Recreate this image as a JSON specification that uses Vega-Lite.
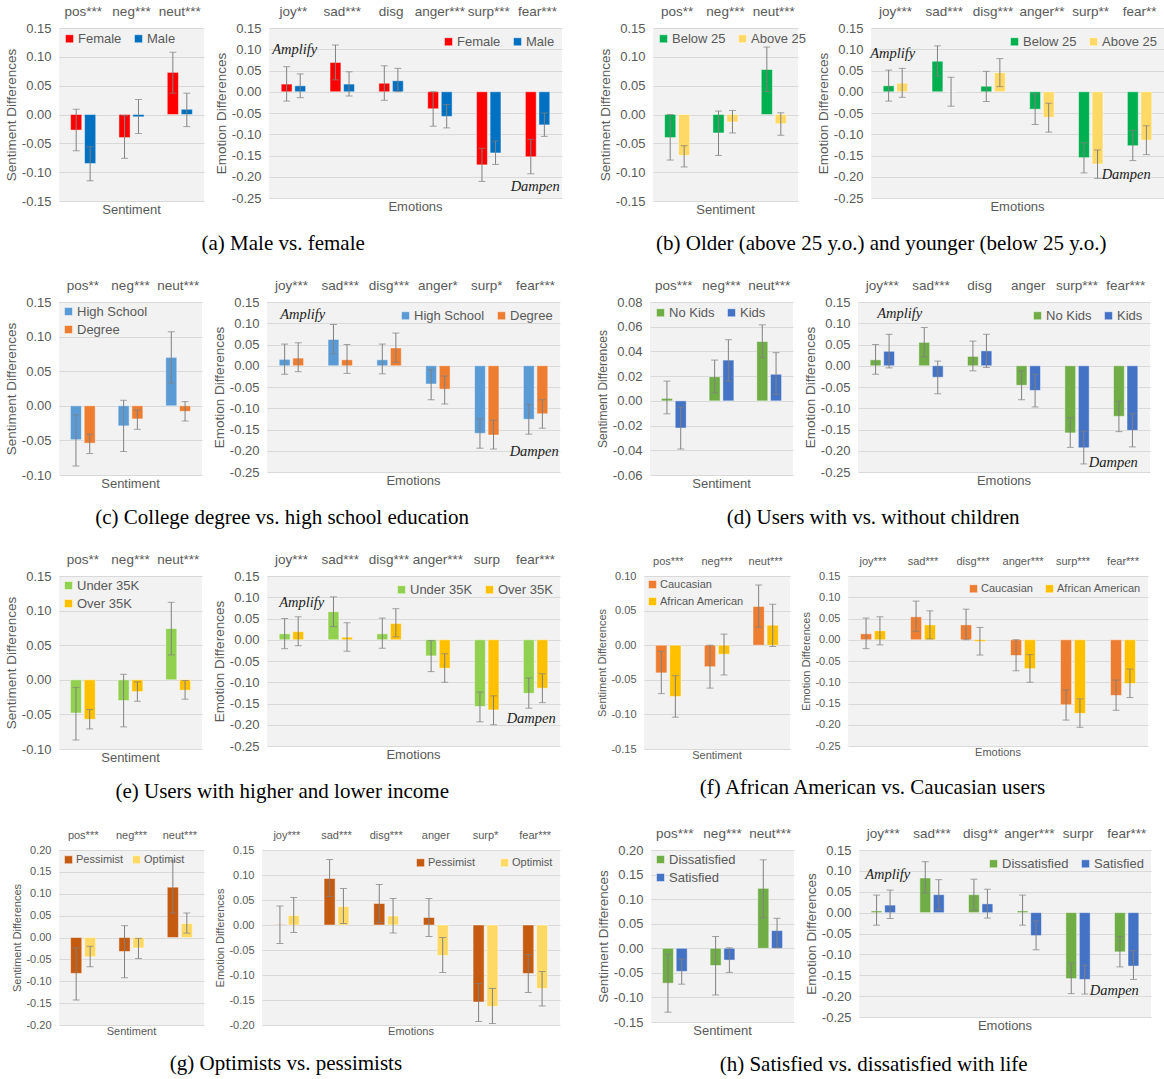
{
"$schema": "https://vega.github.io/schema/vega-lite/v6.json",
"padding": {"left": 4, "top": 4, "right": 2, "bottom": 2},
"background": "white",
"datasets": {"d": [
{"p":"a","k":"s","c":"pos***","g":"Female","v":-0.027,"lo":-0.063,"hi":0.009},
{"p":"a","k":"s","c":"pos***","g":"Male","v":-0.085,"lo":-0.115,"hi":-0.056},
{"p":"a","k":"s","c":"neg***","g":"Female","v":-0.040,"lo":-0.076,"hi":-0.002},
{"p":"a","k":"s","c":"neg***","g":"Male","v":-0.004,"lo":-0.033,"hi":0.026},
{"p":"a","k":"s","c":"neut***","g":"Female","v":0.073,"lo":0.037,"hi":0.108},
{"p":"a","k":"s","c":"neut***","g":"Male","v":0.009,"lo":-0.021,"hi":0.037},
{"p":"a","k":"e","c":"joy**","g":"Female","v":0.018,"lo":-0.022,"hi":0.059},
{"p":"a","k":"e","c":"joy**","g":"Male","v":0.014,"lo":-0.014,"hi":0.042},
{"p":"a","k":"e","c":"sad***","g":"Female","v":0.069,"lo":0.028,"hi":0.110},
{"p":"a","k":"e","c":"sad***","g":"Male","v":0.018,"lo":-0.010,"hi":0.047},
{"p":"a","k":"e","c":"disg","g":"Female","v":0.020,"lo":-0.020,"hi":0.061},
{"p":"a","k":"e","c":"disg","g":"Male","v":0.026,"lo":0.000,"hi":0.055},
{"p":"a","k":"e","c":"anger***","g":"Female","v":-0.040,"lo":-0.081,"hi":0.000},
{"p":"a","k":"e","c":"anger***","g":"Male","v":-0.058,"lo":-0.085,"hi":-0.030},
{"p":"a","k":"e","c":"surp***","g":"Female","v":-0.172,"lo":-0.211,"hi":-0.133},
{"p":"a","k":"e","c":"surp***","g":"Male","v":-0.144,"lo":-0.171,"hi":-0.116},
{"p":"a","k":"e","c":"fear***","g":"Female","v":-0.153,"lo":-0.193,"hi":-0.112},
{"p":"a","k":"e","c":"fear***","g":"Male","v":-0.078,"lo":-0.105,"hi":-0.050},
{"p":"b","k":"s","c":"pos**","g":"Below 25","v":-0.040,"lo":-0.079,"hi":0.000},
{"p":"b","k":"s","c":"pos**","g":"Above 25","v":-0.071,"lo":-0.091,"hi":-0.054},
{"p":"b","k":"s","c":"neg***","g":"Below 25","v":-0.032,"lo":-0.071,"hi":0.006},
{"p":"b","k":"s","c":"neg***","g":"Above 25","v":-0.013,"lo":-0.032,"hi":0.007},
{"p":"b","k":"s","c":"neut***","g":"Below 25","v":0.078,"lo":0.040,"hi":0.117},
{"p":"b","k":"s","c":"neut***","g":"Above 25","v":-0.016,"lo":-0.036,"hi":0.003},
{"p":"b","k":"e","c":"joy***","g":"Below 25","v":0.014,"lo":-0.022,"hi":0.051},
{"p":"b","k":"e","c":"joy***","g":"Above 25","v":0.020,"lo":-0.013,"hi":0.055},
{"p":"b","k":"e","c":"sad***","g":"Below 25","v":0.072,"lo":0.037,"hi":0.108},
{"p":"b","k":"e","c":"sad***","g":"Above 25","v":0.000,"lo":-0.034,"hi":0.034},
{"p":"b","k":"e","c":"disg***","g":"Below 25","v":0.013,"lo":-0.023,"hi":0.048},
{"p":"b","k":"e","c":"disg***","g":"Above 25","v":0.045,"lo":0.012,"hi":0.078},
{"p":"b","k":"e","c":"anger**","g":"Below 25","v":-0.041,"lo":-0.077,"hi":-0.005},
{"p":"b","k":"e","c":"anger**","g":"Above 25","v":-0.060,"lo":-0.095,"hi":-0.027},
{"p":"b","k":"e","c":"surp**","g":"Below 25","v":-0.155,"lo":-0.191,"hi":-0.120},
{"p":"b","k":"e","c":"surp**","g":"Above 25","v":-0.170,"lo":-0.204,"hi":-0.137},
{"p":"b","k":"e","c":"fear**","g":"Below 25","v":-0.127,"lo":-0.162,"hi":-0.091},
{"p":"b","k":"e","c":"fear**","g":"Above 25","v":-0.114,"lo":-0.148,"hi":-0.080},
{"p":"c","k":"s","c":"pos**","g":"High School","v":-0.049,"lo":-0.087,"hi":-0.013},
{"p":"c","k":"s","c":"pos**","g":"Degree","v":-0.054,"lo":-0.069,"hi":-0.041},
{"p":"c","k":"s","c":"neg***","g":"High School","v":-0.029,"lo":-0.066,"hi":0.008},
{"p":"c","k":"s","c":"neg***","g":"Degree","v":-0.019,"lo":-0.034,"hi":-0.006},
{"p":"c","k":"s","c":"neut***","g":"High School","v":0.070,"lo":0.033,"hi":0.107},
{"p":"c","k":"s","c":"neut***","g":"Degree","v":-0.008,"lo":-0.022,"hi":0.006},
{"p":"c","k":"e","c":"joy***","g":"High School","v":0.015,"lo":-0.020,"hi":0.051},
{"p":"c","k":"e","c":"joy***","g":"Degree","v":0.018,"lo":-0.014,"hi":0.054},
{"p":"c","k":"e","c":"sad***","g":"High School","v":0.062,"lo":0.028,"hi":0.097},
{"p":"c","k":"e","c":"sad***","g":"Degree","v":0.014,"lo":-0.018,"hi":0.050},
{"p":"c","k":"e","c":"disg***","g":"High School","v":0.014,"lo":-0.019,"hi":0.051},
{"p":"c","k":"e","c":"disg***","g":"Degree","v":0.042,"lo":0.008,"hi":0.077},
{"p":"c","k":"e","c":"anger*","g":"High School","v":-0.043,"lo":-0.080,"hi":-0.009},
{"p":"c","k":"e","c":"anger*","g":"Degree","v":-0.055,"lo":-0.090,"hi":-0.024},
{"p":"c","k":"e","c":"surp*","g":"High School","v":-0.159,"lo":-0.194,"hi":-0.125},
{"p":"c","k":"e","c":"surp*","g":"Degree","v":-0.163,"lo":-0.196,"hi":-0.128},
{"p":"c","k":"e","c":"fear***","g":"High School","v":-0.126,"lo":-0.161,"hi":-0.091},
{"p":"c","k":"e","c":"fear***","g":"Degree","v":-0.113,"lo":-0.147,"hi":-0.080},
{"p":"d","k":"s","c":"pos***","g":"No Kids","v":0.002,"lo":-0.0105,"hi":0.016},
{"p":"d","k":"s","c":"pos***","g":"Kids","v":-0.022,"lo":-0.039,"hi":-0.005},
{"p":"d","k":"s","c":"neg***","g":"No Kids","v":0.0195,"lo":0.0065,"hi":0.033},
{"p":"d","k":"s","c":"neg***","g":"Kids","v":0.033,"lo":0.016,"hi":0.0495},
{"p":"d","k":"s","c":"neut***","g":"No Kids","v":0.048,"lo":0.035,"hi":0.0615},
{"p":"d","k":"s","c":"neut***","g":"Kids","v":0.0215,"lo":0.0053,"hi":0.039},
{"p":"d","k":"e","c":"joy***","g":"No Kids","v":0.014,"lo":-0.020,"hi":0.050},
{"p":"d","k":"e","c":"joy***","g":"Kids","v":0.034,"lo":-0.005,"hi":0.074},
{"p":"d","k":"e","c":"sad***","g":"No Kids","v":0.055,"lo":0.021,"hi":0.090},
{"p":"d","k":"e","c":"sad***","g":"Kids","v":-0.027,"lo":-0.066,"hi":0.011},
{"p":"d","k":"e","c":"disg","g":"No Kids","v":0.022,"lo":-0.012,"hi":0.058},
{"p":"d","k":"e","c":"disg","g":"Kids","v":0.035,"lo":-0.004,"hi":0.074},
{"p":"d","k":"e","c":"anger","g":"No Kids","v":-0.046,"lo":-0.080,"hi":-0.012},
{"p":"d","k":"e","c":"anger","g":"Kids","v":-0.058,"lo":-0.097,"hi":-0.020},
{"p":"d","k":"e","c":"surp***","g":"No Kids","v":-0.158,"lo":-0.192,"hi":-0.122},
{"p":"d","k":"e","c":"surp***","g":"Kids","v":-0.193,"lo":-0.231,"hi":-0.154},
{"p":"d","k":"e","c":"fear***","g":"No Kids","v":-0.119,"lo":-0.155,"hi":-0.084},
{"p":"d","k":"e","c":"fear***","g":"Kids","v":-0.152,"lo":-0.191,"hi":-0.113},
{"p":"e","k":"s","c":"pos**","g":"Under 35K","v":-0.048,"lo":-0.087,"hi":-0.011},
{"p":"e","k":"s","c":"pos**","g":"Over 35K","v":-0.057,"lo":-0.071,"hi":-0.043},
{"p":"e","k":"s","c":"neg***","g":"Under 35K","v":-0.030,"lo":-0.068,"hi":0.008},
{"p":"e","k":"s","c":"neg***","g":"Over 35K","v":-0.017,"lo":-0.031,"hi":-0.003},
{"p":"e","k":"s","c":"neut***","g":"Under 35K","v":0.074,"lo":0.036,"hi":0.112},
{"p":"e","k":"s","c":"neut***","g":"Over 35K","v":-0.015,"lo":-0.028,"hi":-0.001},
{"p":"e","k":"e","c":"joy***","g":"Under 35K","v":0.014,"lo":-0.021,"hi":0.050},
{"p":"e","k":"e","c":"joy***","g":"Over 35K","v":0.019,"lo":-0.014,"hi":0.054},
{"p":"e","k":"e","c":"sad***","g":"Under 35K","v":0.066,"lo":0.031,"hi":0.101},
{"p":"e","k":"e","c":"sad***","g":"Over 35K","v":0.006,"lo":-0.027,"hi":0.040},
{"p":"e","k":"e","c":"disg***","g":"Under 35K","v":0.014,"lo":-0.020,"hi":0.051},
{"p":"e","k":"e","c":"disg***","g":"Over 35K","v":0.038,"lo":0.007,"hi":0.073},
{"p":"e","k":"e","c":"anger***","g":"Under 35K","v":-0.038,"lo":-0.075,"hi":-0.002},
{"p":"e","k":"e","c":"anger***","g":"Over 35K","v":-0.067,"lo":-0.100,"hi":-0.033},
{"p":"e","k":"e","c":"surp","g":"Under 35K","v":-0.157,"lo":-0.193,"hi":-0.123},
{"p":"e","k":"e","c":"surp","g":"Over 35K","v":-0.165,"lo":-0.200,"hi":-0.132},
{"p":"e","k":"e","c":"fear***","g":"Under 35K","v":-0.126,"lo":-0.161,"hi":-0.090},
{"p":"e","k":"e","c":"fear***","g":"Over 35K","v":-0.114,"lo":-0.148,"hi":-0.080},
{"p":"f","k":"s","c":"pos***","g":"Caucasian","v":-0.040,"lo":-0.070,"hi":-0.009},
{"p":"f","k":"s","c":"pos***","g":"African American","v":-0.074,"lo":-0.104,"hi":-0.044},
{"p":"f","k":"s","c":"neg***","g":"Caucasian","v":-0.031,"lo":-0.062,"hi":0.000},
{"p":"f","k":"s","c":"neg***","g":"African American","v":-0.013,"lo":-0.043,"hi":0.016},
{"p":"f","k":"s","c":"neut***","g":"Caucasian","v":0.056,"lo":0.026,"hi":0.087},
{"p":"f","k":"s","c":"neut***","g":"African American","v":0.029,"lo":-0.002,"hi":0.059},
{"p":"f","k":"e","c":"joy***","g":"Caucasian","v":0.014,"lo":-0.021,"hi":0.051},
{"p":"f","k":"e","c":"joy***","g":"African American","v":0.021,"lo":-0.012,"hi":0.054},
{"p":"f","k":"e","c":"sad***","g":"Caucasian","v":0.054,"lo":0.020,"hi":0.091},
{"p":"f","k":"e","c":"sad***","g":"African American","v":0.035,"lo":0.002,"hi":0.068},
{"p":"f","k":"e","c":"disg***","g":"Caucasian","v":0.035,"lo":0.000,"hi":0.072},
{"p":"f","k":"e","c":"disg***","g":"African American","v":-0.004,"lo":-0.036,"hi":0.029},
{"p":"f","k":"e","c":"anger***","g":"Caucasian","v":-0.037,"lo":-0.073,"hi":0.000},
{"p":"f","k":"e","c":"anger***","g":"African American","v":-0.068,"lo":-0.100,"hi":-0.035},
{"p":"f","k":"e","c":"surp***","g":"Caucasian","v":-0.153,"lo":-0.189,"hi":-0.118},
{"p":"f","k":"e","c":"surp***","g":"African American","v":-0.173,"lo":-0.206,"hi":-0.139},
{"p":"f","k":"e","c":"fear***","g":"Caucasian","v":-0.131,"lo":-0.166,"hi":-0.095},
{"p":"f","k":"e","c":"fear***","g":"African American","v":-0.103,"lo":-0.136,"hi":-0.069},
{"p":"g","k":"s","c":"pos***","g":"Pessimist","v":-0.082,"lo":-0.143,"hi":-0.024},
{"p":"g","k":"s","c":"pos***","g":"Optimist","v":-0.044,"lo":-0.067,"hi":-0.020},
{"p":"g","k":"s","c":"neg***","g":"Pessimist","v":-0.032,"lo":-0.092,"hi":0.027},
{"p":"g","k":"s","c":"neg***","g":"Optimist","v":-0.024,"lo":-0.048,"hi":-0.002},
{"p":"g","k":"s","c":"neut***","g":"Pessimist","v":0.115,"lo":0.056,"hi":0.175},
{"p":"g","k":"s","c":"neut***","g":"Optimist","v":0.032,"lo":0.010,"hi":0.056},
{"p":"g","k":"e","c":"joy***","g":"Pessimist","v":0.001,"lo":-0.037,"hi":0.038},
{"p":"g","k":"e","c":"joy***","g":"Optimist","v":0.019,"lo":-0.015,"hi":0.055},
{"p":"g","k":"e","c":"sad***","g":"Pessimist","v":0.093,"lo":0.057,"hi":0.131},
{"p":"g","k":"e","c":"sad***","g":"Optimist","v":0.037,"lo":0.003,"hi":0.073},
{"p":"g","k":"e","c":"disg***","g":"Pessimist","v":0.043,"lo":0.005,"hi":0.081},
{"p":"g","k":"e","c":"disg***","g":"Optimist","v":0.018,"lo":-0.016,"hi":0.053},
{"p":"g","k":"e","c":"anger","g":"Pessimist","v":0.015,"lo":-0.023,"hi":0.053},
{"p":"g","k":"e","c":"anger","g":"Optimist","v":-0.061,"lo":-0.095,"hi":-0.025},
{"p":"g","k":"e","c":"surp*","g":"Pessimist","v":-0.154,"lo":-0.193,"hi":-0.117},
{"p":"g","k":"e","c":"surp*","g":"Optimist","v":-0.163,"lo":-0.197,"hi":-0.127},
{"p":"g","k":"e","c":"fear***","g":"Pessimist","v":-0.097,"lo":-0.135,"hi":-0.059},
{"p":"g","k":"e","c":"fear***","g":"Optimist","v":-0.127,"lo":-0.162,"hi":-0.093},
{"p":"h","k":"s","c":"pos***","g":"Dissatisfied","v":-0.071,"lo":-0.130,"hi":-0.012},
{"p":"h","k":"s","c":"pos***","g":"Satisfied","v":-0.047,"lo":-0.073,"hi":-0.022},
{"p":"h","k":"s","c":"neg***","g":"Dissatisfied","v":-0.035,"lo":-0.095,"hi":0.024},
{"p":"h","k":"s","c":"neg***","g":"Satisfied","v":-0.024,"lo":-0.049,"hi":0.001},
{"p":"h","k":"s","c":"neut***","g":"Dissatisfied","v":0.122,"lo":0.062,"hi":0.180},
{"p":"h","k":"s","c":"neut***","g":"Satisfied","v":0.036,"lo":0.001,"hi":0.061},
{"p":"h","k":"e","c":"joy***","g":"Dissatisfied","v":0.004,"lo":-0.030,"hi":0.042},
{"p":"h","k":"e","c":"joy***","g":"Satisfied","v":0.018,"lo":-0.014,"hi":0.054},
{"p":"h","k":"e","c":"sad***","g":"Dissatisfied","v":0.083,"lo":0.047,"hi":0.122},
{"p":"h","k":"e","c":"sad***","g":"Satisfied","v":0.043,"lo":0.008,"hi":0.079},
{"p":"h","k":"e","c":"disg**","g":"Dissatisfied","v":0.043,"lo":0.006,"hi":0.080},
{"p":"h","k":"e","c":"disg**","g":"Satisfied","v":0.021,"lo":-0.013,"hi":0.056},
{"p":"h","k":"e","c":"anger***","g":"Dissatisfied","v":0.004,"lo":-0.030,"hi":0.042},
{"p":"h","k":"e","c":"anger***","g":"Satisfied","v":-0.055,"lo":-0.089,"hi":-0.020},
{"p":"h","k":"e","c":"surpr","g":"Dissatisfied","v":-0.158,"lo":-0.194,"hi":-0.121},
{"p":"h","k":"e","c":"surpr","g":"Satisfied","v":-0.160,"lo":-0.195,"hi":-0.126},
{"p":"h","k":"e","c":"fear***","g":"Dissatisfied","v":-0.094,"lo":-0.130,"hi":-0.057},
{"p":"h","k":"e","c":"fear***","g":"Satisfied","v":-0.128,"lo":-0.160,"hi":-0.091}
]},
"data": {"name": "d"},
"config": {
  "font": "Liberation Sans",
  "view": {"fill": "#F2F2F2", "stroke": null},
  "axis": {"labelFont": "Liberation Sans", "titleFont": "Liberation Sans", "labelColor": "#595959", "titleColor": "#595959", "titleFontWeight": "normal", "domain": false, "ticks": false, "labelFontSize": 13, "titleFontSize": 13.5},
  "axisY": {"gridColor": "#D9D9D9", "gridWidth": 1, "labelPadding": 8, "titlePadding": 3},
  "axisX": {"grid": false, "labelAngle": 0, "labelPadding": 10, "labelFontSize": 13.5},
  "legend": {"symbolType": "square", "symbolSize": 64, "labelFont": "Liberation Sans", "labelFontSize": 13, "labelColor": "#595959", "padding": 0, "columnPadding": 10, "rowPadding": 4, "labelOffset": 2, "symbolStrokeWidth": 0, "offset": 4},
  "title": {"font": "Liberation Sans", "fontSize": 13, "fontWeight": "normal", "color": "#595959", "offset": -4},
  "bar": {"stroke": "#ffffff", "strokeOpacity": 0.45, "strokeWidth": 1},
  "rule": {"color": "#808080", "strokeWidth": 1},
  "tick": {"color": "#808080", "thickness": 1}
},
"spacing": 24,
"resolve": {"scale": {"color": "independent", "xOffset": "independent"}},
"vconcat": [
{"hconcat": [
 {"title": {"text": "(a) Male vs. female", "orient": "bottom", "anchor": "middle", "font": "Liberation Serif", "fontSize": 21, "color": "#000000", "offset": 16},
  "spacing": 10, "resolve": {"scale": {"color": "independent", "xOffset": "independent"}},
  "hconcat": [
  {"width": 145, "height": 173, "title": {"text": "Sentiment", "orient": "bottom"},
   "transform": [{"filter": "datum.p=='a'&&datum.k=='s'"}],
   "encoding": {
     "x": {"field": "c", "type": "nominal", "sort": null, "scale": {"paddingInner": 0.48, "paddingOuter": 0.24}, "axis": {"orient": "top", "title": null}},
     "y": {"field": "v", "type": "quantitative", "scale": {"domain": [-0.15, 0.15], "nice": false}, "axis": {"title": "Sentiment Differences", "values": [-0.15,-0.1,-0.05,0,0.05,0.1,0.15], "labelExpr": "replace(format(datum.value,'.2f'),'\u2212','-')"}}},
   "layer": [
    {"mark": "bar", "encoding": {"xOffset": {"field": "g", "type": "nominal", "sort": null, "scale": {"paddingInner": 0.2}},
      "color": {"field": "g", "type": "nominal", "sort": null, "scale": {"range": ["#FF0000","#0070C0"]}, "legend": {"title": null, "orient": "top-left", "direction": "horizontal"}}}},
    {"mark": "rule", "encoding": {"xOffset": {"field": "g", "type": "nominal", "sort": null}, "y": {"field": "lo", "type": "quantitative"}, "y2": {"field": "hi"}}},
    {"transform": [{"fold": ["lo","hi"], "as": ["ek","ev"]}], "mark": {"type": "tick", "size": 7}, "encoding": {"xOffset": {"field": "g", "type": "nominal", "sort": null}, "y": {"field": "ev", "type": "quantitative"}}}
   ]},
  {"width": 293, "height": 170, "title": {"text": "Emotions", "orient": "bottom"},
   "transform": [{"filter": "datum.p=='a'&&datum.k=='e'"}],
   "encoding": {
     "x": {"field": "c", "type": "nominal", "sort": null, "scale": {"paddingInner": 0.5, "paddingOuter": 0.25}, "axis": {"orient": "top", "title": null}},
     "y": {"field": "v", "type": "quantitative", "scale": {"domain": [-0.25, 0.15], "nice": false}, "axis": {"title": "Emotion Differences", "values": [-0.25,-0.2,-0.15,-0.1,-0.05,0,0.05,0.1,0.15], "labelExpr": "replace(format(datum.value,'.2f'),'\u2212','-')"}}},
   "layer": [
    {"mark": "bar", "encoding": {"xOffset": {"field": "g", "type": "nominal", "sort": null, "scale": {"paddingInner": 0.2}},
      "color": {"field": "g", "type": "nominal", "sort": null, "scale": {"range": ["#FF0000","#0070C0"]}, "legend": {"title": null, "orient": "top-right", "direction": "horizontal", "offset": 7}}}},
    {"mark": "rule", "encoding": {"xOffset": {"field": "g", "type": "nominal", "sort": null}, "y": {"field": "lo", "type": "quantitative"}, "y2": {"field": "hi"}}},
    {"transform": [{"fold": ["lo","hi"], "as": ["ek","ev"]}], "mark": {"type": "tick", "size": 7}, "encoding": {"xOffset": {"field": "g", "type": "nominal", "sort": null}, "y": {"field": "ev", "type": "quantitative"}}},
    {"data": {"values": [{"c": "joy**", "t": "Amplify", "y": 0.098}]}, "mark": {"type": "text", "align": "left", "dx": -9, "font": "Liberation Serif", "fontStyle": "italic", "fontSize": 14.5, "color": "#222222"}, "encoding": {"x": {"field": "c", "type": "nominal", "sort": null, "bandPosition": 0, "axis": {"orient": "top", "title": null}}, "y": {"field": "y", "type": "quantitative"}, "text": {"field": "t"}}},
    {"data": {"values": [{"c": "fear***", "t": "Dampen", "y": -0.224}]}, "mark": {"type": "text", "align": "right", "dx": 10, "font": "Liberation Serif", "fontStyle": "italic", "fontSize": 14.5, "color": "#222222"}, "encoding": {"x": {"field": "c", "type": "nominal", "sort": null, "bandPosition": 1, "axis": {"orient": "top", "title": null}}, "y": {"field": "y", "type": "quantitative"}, "text": {"field": "t"}}}
   ]}
 ]},
 {"title": {"text": "(b) Older (above 25 y.o.) and younger (below 25 y.o.)", "orient": "bottom", "anchor": "middle", "font": "Liberation Serif", "fontSize": 21, "color": "#000000", "offset": 16},
  "spacing": 10, "resolve": {"scale": {"color": "independent", "xOffset": "independent"}},
  "hconcat": [
  {"width": 145, "height": 173, "title": {"text": "Sentiment", "orient": "bottom"},
   "transform": [{"filter": "datum.p=='b'&&datum.k=='s'"}],
   "encoding": {
     "x": {"field": "c", "type": "nominal", "sort": null, "scale": {"paddingInner": 0.48, "paddingOuter": 0.24}, "axis": {"orient": "top", "title": null}},
     "y": {"field": "v", "type": "quantitative", "scale": {"domain": [-0.15, 0.15], "nice": false}, "axis": {"title": "Sentiment Differences", "values": [-0.15,-0.1,-0.05,0,0.05,0.1,0.15], "labelExpr": "replace(format(datum.value,'.2f'),'\u2212','-')"}}},
   "layer": [
    {"mark": "bar", "encoding": {"xOffset": {"field": "g", "type": "nominal", "sort": null, "scale": {"paddingInner": 0.2}},
      "color": {"field": "g", "type": "nominal", "sort": null, "scale": {"range": ["#00B050","#FFD966"]}, "legend": {"title": null, "orient": "top-left", "direction": "horizontal"}}}},
    {"mark": "rule", "encoding": {"xOffset": {"field": "g", "type": "nominal", "sort": null}, "y": {"field": "lo", "type": "quantitative"}, "y2": {"field": "hi"}}},
    {"transform": [{"fold": ["lo","hi"], "as": ["ek","ev"]}], "mark": {"type": "tick", "size": 7}, "encoding": {"xOffset": {"field": "g", "type": "nominal", "sort": null}, "y": {"field": "ev", "type": "quantitative"}}}
   ]},
  {"width": 293, "height": 170, "title": {"text": "Emotions", "orient": "bottom"},
   "transform": [{"filter": "datum.p=='b'&&datum.k=='e'"}],
   "encoding": {
     "x": {"field": "c", "type": "nominal", "sort": null, "scale": {"paddingInner": 0.5, "paddingOuter": 0.25}, "axis": {"orient": "top", "title": null}},
     "y": {"field": "v", "type": "quantitative", "scale": {"domain": [-0.25, 0.15], "nice": false}, "axis": {"title": "Emotion Differences", "values": [-0.25,-0.2,-0.15,-0.1,-0.05,0,0.05,0.1,0.15], "labelExpr": "replace(format(datum.value,'.2f'),'\u2212','-')"}}},
   "layer": [
    {"mark": "bar", "encoding": {"xOffset": {"field": "g", "type": "nominal", "sort": null, "scale": {"paddingInner": 0.2}},
      "color": {"field": "g", "type": "nominal", "sort": null, "scale": {"range": ["#00B050","#FFD966"]}, "legend": {"title": null, "orient": "top-right", "direction": "horizontal", "offset": 7}}}},
    {"mark": "rule", "encoding": {"xOffset": {"field": "g", "type": "nominal", "sort": null}, "y": {"field": "lo", "type": "quantitative"}, "y2": {"field": "hi"}}},
    {"transform": [{"fold": ["lo","hi"], "as": ["ek","ev"]}], "mark": {"type": "tick", "size": 7}, "encoding": {"xOffset": {"field": "g", "type": "nominal", "sort": null}, "y": {"field": "ev", "type": "quantitative"}}},
    {"data": {"values": [{"c": "joy***", "t": "Amplify", "y": 0.088}]}, "mark": {"type": "text", "align": "left", "dx": -13, "font": "Liberation Serif", "fontStyle": "italic", "fontSize": 14.5, "color": "#222222"}, "encoding": {"x": {"field": "c", "type": "nominal", "sort": null, "bandPosition": 0, "axis": {"orient": "top", "title": null}}, "y": {"field": "y", "type": "quantitative"}, "text": {"field": "t"}}},
    {"data": {"values": [{"c": "fear**", "t": "Dampen", "y": -0.195}]}, "mark": {"type": "text", "align": "right", "dx": -1, "font": "Liberation Serif", "fontStyle": "italic", "fontSize": 14.5, "color": "#222222"}, "encoding": {"x": {"field": "c", "type": "nominal", "sort": null, "bandPosition": 1, "axis": {"orient": "top", "title": null}}, "y": {"field": "y", "type": "quantitative"}, "text": {"field": "t"}}}
   ]}
 ]}
], "spacing": 36, "resolve": {"scale": {"color": "independent", "xOffset": "independent"}}},
{"hconcat": [
 {"title": {"text": "(c) College degree vs. high school education", "orient": "bottom", "anchor": "middle", "font": "Liberation Serif", "fontSize": 21, "color": "#000000", "offset": 16},
  "spacing": 10, "resolve": {"scale": {"color": "independent", "xOffset": "independent"}},
  "hconcat": [
  {"width": 143, "height": 173, "title": {"text": "Sentiment", "orient": "bottom"},
   "transform": [{"filter": "datum.p=='c'&&datum.k=='s'"}],
   "encoding": {
     "x": {"field": "c", "type": "nominal", "sort": null, "scale": {"paddingInner": 0.48, "paddingOuter": 0.24}, "axis": {"orient": "top", "title": null}},
     "y": {"field": "v", "type": "quantitative", "scale": {"domain": [-0.1, 0.15], "nice": false}, "axis": {"title": "Sentiment Differences", "values": [-0.1,-0.05,0,0.05,0.1,0.15], "labelExpr": "replace(format(datum.value,'.2f'),'\u2212','-')"}}},
   "layer": [
    {"mark": "bar", "encoding": {"xOffset": {"field": "g", "type": "nominal", "sort": null, "scale": {"paddingInner": 0.2}},
      "color": {"field": "g", "type": "nominal", "sort": null, "scale": {"range": ["#5B9BD5","#ED7D31"]}, "legend": {"title": null, "orient": "top-left", "direction": "vertical", "offset": 3}}}},
    {"mark": "rule", "encoding": {"xOffset": {"field": "g", "type": "nominal", "sort": null}, "y": {"field": "lo", "type": "quantitative"}, "y2": {"field": "hi"}}},
    {"transform": [{"fold": ["lo","hi"], "as": ["ek","ev"]}], "mark": {"type": "tick", "size": 7}, "encoding": {"xOffset": {"field": "g", "type": "nominal", "sort": null}, "y": {"field": "ev", "type": "quantitative"}}}
   ]},
  {"width": 293, "height": 170, "title": {"text": "Emotions", "orient": "bottom"},
   "transform": [{"filter": "datum.p=='c'&&datum.k=='e'"}],
   "encoding": {
     "x": {"field": "c", "type": "nominal", "sort": null, "scale": {"paddingInner": 0.5, "paddingOuter": 0.25}, "axis": {"orient": "top", "title": null}},
     "y": {"field": "v", "type": "quantitative", "scale": {"domain": [-0.25, 0.15], "nice": false}, "axis": {"title": "Emotion Differences", "values": [-0.25,-0.2,-0.15,-0.1,-0.05,0,0.05,0.1,0.15], "labelExpr": "replace(format(datum.value,'.2f'),'\u2212','-')"}}},
   "layer": [
    {"mark": "bar", "encoding": {"xOffset": {"field": "g", "type": "nominal", "sort": null, "scale": {"paddingInner": 0.2}},
      "color": {"field": "g", "type": "nominal", "sort": null, "scale": {"range": ["#5B9BD5","#ED7D31"]}, "legend": {"title": null, "orient": "top-right", "direction": "horizontal", "offset": 7}}}},
    {"mark": "rule", "encoding": {"xOffset": {"field": "g", "type": "nominal", "sort": null}, "y": {"field": "lo", "type": "quantitative"}, "y2": {"field": "hi"}}},
    {"transform": [{"fold": ["lo","hi"], "as": ["ek","ev"]}], "mark": {"type": "tick", "size": 7}, "encoding": {"xOffset": {"field": "g", "type": "nominal", "sort": null}, "y": {"field": "ev", "type": "quantitative"}}},
    {"data": {"values": [{"c": "joy***", "t": "Amplify", "y": 0.12}]}, "mark": {"type": "text", "align": "left", "dx": 1, "font": "Liberation Serif", "fontStyle": "italic", "fontSize": 14.5, "color": "#222222"}, "encoding": {"x": {"field": "c", "type": "nominal", "sort": null, "bandPosition": 0, "axis": {"orient": "top", "title": null}}, "y": {"field": "y", "type": "quantitative"}, "text": {"field": "t"}}},
    {"data": {"values": [{"c": "fear***", "t": "Dampen", "y": -0.204}]}, "mark": {"type": "text", "align": "right", "dx": 11, "font": "Liberation Serif", "fontStyle": "italic", "fontSize": 14.5, "color": "#222222"}, "encoding": {"x": {"field": "c", "type": "nominal", "sort": null, "bandPosition": 1, "axis": {"orient": "top", "title": null}}, "y": {"field": "y", "type": "quantitative"}, "text": {"field": "t"}}}
   ]}
 ]},
 {"title": {"text": "(d) Users with vs. without children", "orient": "bottom", "anchor": "middle", "font": "Liberation Serif", "fontSize": 21, "color": "#000000", "offset": 16},
  "spacing": 10, "resolve": {"scale": {"color": "independent", "xOffset": "independent"}},
  "hconcat": [
  {"width": 143, "height": 173, "title": {"text": "Sentiment", "orient": "bottom"},
   "transform": [{"filter": "datum.p=='d'&&datum.k=='s'"}],
   "encoding": {
     "x": {"field": "c", "type": "nominal", "sort": null, "scale": {"paddingInner": 0.48, "paddingOuter": 0.24}, "axis": {"orient": "top", "title": null}},
     "y": {"field": "v", "type": "quantitative", "scale": {"domain": [-0.06, 0.08], "nice": false}, "axis": {"title": "Sentiment Differences", "titleFontSize": 12, "values": [-0.06,-0.04,-0.02,0,0.02,0.04,0.06,0.08], "labelExpr": "replace(format(datum.value,'.2f'),'\u2212','-')"}}},
   "layer": [
    {"mark": "bar", "encoding": {"xOffset": {"field": "g", "type": "nominal", "sort": null, "scale": {"paddingInner": 0.2}},
      "color": {"field": "g", "type": "nominal", "sort": null, "scale": {"range": ["#70AD47","#4472C4"]}, "legend": {"title": null, "orient": "top-left", "direction": "horizontal"}}}},
    {"mark": "rule", "encoding": {"xOffset": {"field": "g", "type": "nominal", "sort": null}, "y": {"field": "lo", "type": "quantitative"}, "y2": {"field": "hi"}}},
    {"transform": [{"fold": ["lo","hi"], "as": ["ek","ev"]}], "mark": {"type": "tick", "size": 7}, "encoding": {"xOffset": {"field": "g", "type": "nominal", "sort": null}, "y": {"field": "ev", "type": "quantitative"}}}
   ]},
  {"width": 292, "height": 170, "title": {"text": "Emotions", "orient": "bottom"},
   "transform": [{"filter": "datum.p=='d'&&datum.k=='e'"}],
   "encoding": {
     "x": {"field": "c", "type": "nominal", "sort": null, "scale": {"paddingInner": 0.5, "paddingOuter": 0.25}, "axis": {"orient": "top", "title": null}},
     "y": {"field": "v", "type": "quantitative", "scale": {"domain": [-0.25, 0.15], "nice": false}, "axis": {"title": "Emotion Differences", "values": [-0.25,-0.2,-0.15,-0.1,-0.05,0,0.05,0.1,0.15], "labelExpr": "replace(format(datum.value,'.2f'),'\u2212','-')"}}},
   "layer": [
    {"mark": "bar", "encoding": {"xOffset": {"field": "g", "type": "nominal", "sort": null, "scale": {"paddingInner": 0.2}},
      "color": {"field": "g", "type": "nominal", "sort": null, "scale": {"range": ["#70AD47","#4472C4"]}, "legend": {"title": null, "orient": "top-right", "direction": "horizontal", "offset": 7}}}},
    {"mark": "rule", "encoding": {"xOffset": {"field": "g", "type": "nominal", "sort": null}, "y": {"field": "lo", "type": "quantitative"}, "y2": {"field": "hi"}}},
    {"transform": [{"fold": ["lo","hi"], "as": ["ek","ev"]}], "mark": {"type": "tick", "size": 7}, "encoding": {"xOffset": {"field": "g", "type": "nominal", "sort": null}, "y": {"field": "ev", "type": "quantitative"}}},
    {"data": {"values": [{"c": "joy***", "t": "Amplify", "y": 0.121}]}, "mark": {"type": "text", "align": "left", "dx": 7, "font": "Liberation Serif", "fontStyle": "italic", "fontSize": 14.5, "color": "#222222"}, "encoding": {"x": {"field": "c", "type": "nominal", "sort": null, "bandPosition": 0, "axis": {"orient": "top", "title": null}}, "y": {"field": "y", "type": "quantitative"}, "text": {"field": "t"}}},
    {"data": {"values": [{"c": "fear***", "t": "Dampen", "y": -0.228}]}, "mark": {"type": "text", "align": "right", "dx": 0, "font": "Liberation Serif", "fontStyle": "italic", "fontSize": 14.5, "color": "#222222"}, "encoding": {"x": {"field": "c", "type": "nominal", "sort": null, "bandPosition": 1, "axis": {"orient": "top", "title": null}}, "y": {"field": "y", "type": "quantitative"}, "text": {"field": "t"}}}
   ]}
 ]}
], "spacing": 36, "resolve": {"scale": {"color": "independent", "xOffset": "independent"}}},
{"hconcat": [
 {"title": {"text": "(e) Users with higher and lower income", "orient": "bottom", "anchor": "middle", "font": "Liberation Serif", "fontSize": 21, "color": "#000000", "offset": 16},
  "spacing": 10, "resolve": {"scale": {"color": "independent", "xOffset": "independent"}},
  "hconcat": [
  {"width": 143, "height": 173, "title": {"text": "Sentiment", "orient": "bottom"},
   "transform": [{"filter": "datum.p=='e'&&datum.k=='s'"}],
   "encoding": {
     "x": {"field": "c", "type": "nominal", "sort": null, "scale": {"paddingInner": 0.48, "paddingOuter": 0.24}, "axis": {"orient": "top", "title": null}},
     "y": {"field": "v", "type": "quantitative", "scale": {"domain": [-0.1, 0.15], "nice": false}, "axis": {"title": "Sentiment Differences", "values": [-0.1,-0.05,0,0.05,0.1,0.15], "labelExpr": "replace(format(datum.value,'.2f'),'\u2212','-')"}}},
   "layer": [
    {"mark": "bar", "encoding": {"xOffset": {"field": "g", "type": "nominal", "sort": null, "scale": {"paddingInner": 0.2}},
      "color": {"field": "g", "type": "nominal", "sort": null, "scale": {"range": ["#92D050","#FFC000"]}, "legend": {"title": null, "orient": "top-left", "direction": "vertical", "offset": 3}}}},
    {"mark": "rule", "encoding": {"xOffset": {"field": "g", "type": "nominal", "sort": null}, "y": {"field": "lo", "type": "quantitative"}, "y2": {"field": "hi"}}},
    {"transform": [{"fold": ["lo","hi"], "as": ["ek","ev"]}], "mark": {"type": "tick", "size": 7}, "encoding": {"xOffset": {"field": "g", "type": "nominal", "sort": null}, "y": {"field": "ev", "type": "quantitative"}}}
   ]},
  {"width": 293, "height": 170, "title": {"text": "Emotions", "orient": "bottom"},
   "transform": [{"filter": "datum.p=='e'&&datum.k=='e'"}],
   "encoding": {
     "x": {"field": "c", "type": "nominal", "sort": null, "scale": {"paddingInner": 0.5, "paddingOuter": 0.25}, "axis": {"orient": "top", "title": null}},
     "y": {"field": "v", "type": "quantitative", "scale": {"domain": [-0.25, 0.15], "nice": false}, "axis": {"title": "Emotion Differences", "values": [-0.25,-0.2,-0.15,-0.1,-0.05,0,0.05,0.1,0.15], "labelExpr": "replace(format(datum.value,'.2f'),'\u2212','-')"}}},
   "layer": [
    {"mark": "bar", "encoding": {"xOffset": {"field": "g", "type": "nominal", "sort": null, "scale": {"paddingInner": 0.2}},
      "color": {"field": "g", "type": "nominal", "sort": null, "scale": {"range": ["#92D050","#FFC000"]}, "legend": {"title": null, "orient": "top-right", "direction": "horizontal", "offset": 7}}}},
    {"mark": "rule", "encoding": {"xOffset": {"field": "g", "type": "nominal", "sort": null}, "y": {"field": "lo", "type": "quantitative"}, "y2": {"field": "hi"}}},
    {"transform": [{"fold": ["lo","hi"], "as": ["ek","ev"]}], "mark": {"type": "tick", "size": 7}, "encoding": {"xOffset": {"field": "g", "type": "nominal", "sort": null}, "y": {"field": "ev", "type": "quantitative"}}},
    {"data": {"values": [{"c": "joy***", "t": "Amplify", "y": 0.087}]}, "mark": {"type": "text", "align": "left", "dx": 0, "font": "Liberation Serif", "fontStyle": "italic", "fontSize": 14.5, "color": "#222222"}, "encoding": {"x": {"field": "c", "type": "nominal", "sort": null, "bandPosition": 0, "axis": {"orient": "top", "title": null}}, "y": {"field": "y", "type": "quantitative"}, "text": {"field": "t"}}},
    {"data": {"values": [{"c": "fear***", "t": "Dampen", "y": -0.186}]}, "mark": {"type": "text", "align": "right", "dx": 8, "font": "Liberation Serif", "fontStyle": "italic", "fontSize": 14.5, "color": "#222222"}, "encoding": {"x": {"field": "c", "type": "nominal", "sort": null, "bandPosition": 1, "axis": {"orient": "top", "title": null}}, "y": {"field": "y", "type": "quantitative"}, "text": {"field": "t"}}}
   ]}
 ]},
 {"title": {"text": "(f) African American vs. Caucasian users", "orient": "bottom", "anchor": "middle", "font": "Liberation Serif", "fontSize": 21, "color": "#000000", "offset": 16},
  "spacing": 10, "resolve": {"scale": {"color": "independent", "xOffset": "independent"}},
  "hconcat": [
  {"width": 146, "height": 173, "title": {"text": "Sentiment", "orient": "bottom", "fontSize": 11},
   "transform": [{"filter": "datum.p=='f'&&datum.k=='s'"}],
   "encoding": {
     "x": {"field": "c", "type": "nominal", "sort": null, "scale": {"paddingInner": 0.48, "paddingOuter": 0.24}, "axis": {"orient": "top", "title": null, "labelFontSize": 11}},
     "y": {"field": "v", "type": "quantitative", "scale": {"domain": [-0.15, 0.1], "nice": false}, "axis": {"title": "Sentiment Differences", "titleFontSize": 11, "labelFontSize": 11, "values": [-0.15,-0.1,-0.05,0,0.05,0.1], "labelExpr": "replace(format(datum.value,'.2f'),'\u2212','-')"}}},
   "layer": [
    {"mark": "bar", "encoding": {"xOffset": {"field": "g", "type": "nominal", "sort": null, "scale": {"paddingInner": 0.2}},
      "color": {"field": "g", "type": "nominal", "sort": null, "scale": {"range": ["#ED7D31","#FFC000"]}, "legend": {"title": null, "orient": "top-left", "direction": "vertical", "offset": 3, "labelFontSize": 11}}}},
    {"mark": "rule", "encoding": {"xOffset": {"field": "g", "type": "nominal", "sort": null}, "y": {"field": "lo", "type": "quantitative"}, "y2": {"field": "hi"}}},
    {"transform": [{"fold": ["lo","hi"], "as": ["ek","ev"]}], "mark": {"type": "tick", "size": 7}, "encoding": {"xOffset": {"field": "g", "type": "nominal", "sort": null}, "y": {"field": "ev", "type": "quantitative"}}}
   ]},
  {"width": 300, "height": 170, "title": {"text": "Emotions", "orient": "bottom", "fontSize": 11},
   "transform": [{"filter": "datum.p=='f'&&datum.k=='e'"}],
   "encoding": {
     "x": {"field": "c", "type": "nominal", "sort": null, "scale": {"paddingInner": 0.5, "paddingOuter": 0.25}, "axis": {"orient": "top", "title": null, "labelFontSize": 11}},
     "y": {"field": "v", "type": "quantitative", "scale": {"domain": [-0.25, 0.15], "nice": false}, "axis": {"title": "Emotion Differences", "titleFontSize": 11, "labelFontSize": 11, "values": [-0.25,-0.2,-0.15,-0.1,-0.05,0,0.05,0.1,0.15], "labelExpr": "replace(format(datum.value,'.2f'),'\u2212','-')"}}},
   "layer": [
    {"mark": "bar", "encoding": {"xOffset": {"field": "g", "type": "nominal", "sort": null, "scale": {"paddingInner": 0.2}},
      "color": {"field": "g", "type": "nominal", "sort": null, "scale": {"range": ["#ED7D31","#FFC000"]}, "legend": {"title": null, "orient": "top-right", "direction": "horizontal", "offset": 7, "labelFontSize": 11}}}},
    {"mark": "rule", "encoding": {"xOffset": {"field": "g", "type": "nominal", "sort": null}, "y": {"field": "lo", "type": "quantitative"}, "y2": {"field": "hi"}}},
    {"transform": [{"fold": ["lo","hi"], "as": ["ek","ev"]}], "mark": {"type": "tick", "size": 7}, "encoding": {"xOffset": {"field": "g", "type": "nominal", "sort": null}, "y": {"field": "ev", "type": "quantitative"}}}
   ]}
 ]}
], "spacing": 36, "resolve": {"scale": {"color": "independent", "xOffset": "independent"}}},
{"hconcat": [
 {"title": {"text": "(g) Optimists vs. pessimists", "orient": "bottom", "anchor": "middle", "font": "Liberation Serif", "fontSize": 21, "color": "#000000", "offset": 16},
  "spacing": 10, "resolve": {"scale": {"color": "independent", "xOffset": "independent"}},
  "hconcat": [
  {"width": 145, "height": 175, "title": {"text": "Sentiment", "orient": "bottom", "fontSize": 11},
   "transform": [{"filter": "datum.p=='g'&&datum.k=='s'"}],
   "encoding": {
     "x": {"field": "c", "type": "nominal", "sort": null, "scale": {"paddingInner": 0.48, "paddingOuter": 0.24}, "axis": {"orient": "top", "title": null, "labelFontSize": 11}},
     "y": {"field": "v", "type": "quantitative", "scale": {"domain": [-0.2, 0.2], "nice": false}, "axis": {"title": "Sentiment Differences", "titleFontSize": 11, "labelFontSize": 11, "values": [-0.2,-0.15,-0.1,-0.05,0,0.05,0.1,0.15,0.2], "labelExpr": "replace(format(datum.value,'.2f'),'\u2212','-')"}}},
   "layer": [
    {"mark": "bar", "encoding": {"xOffset": {"field": "g", "type": "nominal", "sort": null, "scale": {"paddingInner": 0.2}},
      "color": {"field": "g", "type": "nominal", "sort": null, "scale": {"range": ["#C55A11","#FFD966"]}, "legend": {"title": null, "orient": "top-left", "direction": "horizontal", "labelFontSize": 11, "columnPadding": 6}}}},
    {"mark": "rule", "encoding": {"xOffset": {"field": "g", "type": "nominal", "sort": null}, "y": {"field": "lo", "type": "quantitative"}, "y2": {"field": "hi"}}},
    {"transform": [{"fold": ["lo","hi"], "as": ["ek","ev"]}], "mark": {"type": "tick", "size": 7}, "encoding": {"xOffset": {"field": "g", "type": "nominal", "sort": null}, "y": {"field": "ev", "type": "quantitative"}}}
   ]},
  {"width": 298, "height": 175, "title": {"text": "Emotions", "orient": "bottom", "fontSize": 11},
   "transform": [{"filter": "datum.p=='g'&&datum.k=='e'"}],
   "encoding": {
     "x": {"field": "c", "type": "nominal", "sort": null, "scale": {"paddingInner": 0.5, "paddingOuter": 0.25}, "axis": {"orient": "top", "title": null, "labelFontSize": 11}},
     "y": {"field": "v", "type": "quantitative", "scale": {"domain": [-0.2, 0.15], "nice": false}, "axis": {"title": "Emotion Differences", "titleFontSize": 11, "labelFontSize": 11, "values": [-0.2,-0.15,-0.1,-0.05,0,0.05,0.1,0.15], "labelExpr": "replace(format(datum.value,'.2f'),'\u2212','-')"}}},
   "layer": [
    {"mark": "bar", "encoding": {"xOffset": {"field": "g", "type": "nominal", "sort": null, "scale": {"paddingInner": 0.2}},
      "color": {"field": "g", "type": "nominal", "sort": null, "scale": {"range": ["#C55A11","#FFD966"]}, "legend": {"title": null, "orient": "top-right", "direction": "horizontal", "offset": 7, "labelFontSize": 11, "columnPadding": 22}}}},
    {"mark": "rule", "encoding": {"xOffset": {"field": "g", "type": "nominal", "sort": null}, "y": {"field": "lo", "type": "quantitative"}, "y2": {"field": "hi"}}},
    {"transform": [{"fold": ["lo","hi"], "as": ["ek","ev"]}], "mark": {"type": "tick", "size": 7}, "encoding": {"xOffset": {"field": "g", "type": "nominal", "sort": null}, "y": {"field": "ev", "type": "quantitative"}}}
   ]}
 ]},
 {"title": {"text": "(h) Satisfied vs. dissatisfied with life", "orient": "bottom", "anchor": "middle", "font": "Liberation Serif", "fontSize": 21, "color": "#000000", "offset": 16},
  "spacing": 10, "resolve": {"scale": {"color": "independent", "xOffset": "independent"}},
  "hconcat": [
  {"width": 143, "height": 172, "title": {"text": "Sentiment", "orient": "bottom"},
   "transform": [{"filter": "datum.p=='h'&&datum.k=='s'"}],
   "encoding": {
     "x": {"field": "c", "type": "nominal", "sort": null, "scale": {"paddingInner": 0.48, "paddingOuter": 0.24}, "axis": {"orient": "top", "title": null}},
     "y": {"field": "v", "type": "quantitative", "scale": {"domain": [-0.15, 0.2], "nice": false}, "axis": {"title": "Sentiment Differences", "values": [-0.15,-0.1,-0.05,0,0.05,0.1,0.15,0.2], "labelExpr": "replace(format(datum.value,'.2f'),'\u2212','-')"}}},
   "layer": [
    {"mark": "bar", "encoding": {"xOffset": {"field": "g", "type": "nominal", "sort": null, "scale": {"paddingInner": 0.2}},
      "color": {"field": "g", "type": "nominal", "sort": null, "scale": {"range": ["#70AD47","#4472C4"]}, "legend": {"title": null, "orient": "top-left", "direction": "vertical", "offset": 3}}}},
    {"mark": "rule", "encoding": {"xOffset": {"field": "g", "type": "nominal", "sort": null}, "y": {"field": "lo", "type": "quantitative"}, "y2": {"field": "hi"}}},
    {"transform": [{"fold": ["lo","hi"], "as": ["ek","ev"]}], "mark": {"type": "tick", "size": 7}, "encoding": {"xOffset": {"field": "g", "type": "nominal", "sort": null}, "y": {"field": "ev", "type": "quantitative"}}}
   ]},
  {"width": 292, "height": 167, "title": {"text": "Emotions", "orient": "bottom"},
   "transform": [{"filter": "datum.p=='h'&&datum.k=='e'"}],
   "encoding": {
     "x": {"field": "c", "type": "nominal", "sort": null, "scale": {"paddingInner": 0.5, "paddingOuter": 0.25}, "axis": {"orient": "top", "title": null}},
     "y": {"field": "v", "type": "quantitative", "scale": {"domain": [-0.25, 0.15], "nice": false}, "axis": {"title": "Emotion Differences", "values": [-0.25,-0.2,-0.15,-0.1,-0.05,0,0.05,0.1,0.15], "labelExpr": "replace(format(datum.value,'.2f'),'\u2212','-')"}}},
   "layer": [
    {"mark": "bar", "encoding": {"xOffset": {"field": "g", "type": "nominal", "sort": null, "scale": {"paddingInner": 0.2}},
      "color": {"field": "g", "type": "nominal", "sort": null, "scale": {"range": ["#70AD47","#4472C4"]}, "legend": {"title": null, "orient": "top-right", "direction": "horizontal", "offset": 7}}}},
    {"mark": "rule", "encoding": {"xOffset": {"field": "g", "type": "nominal", "sort": null}, "y": {"field": "lo", "type": "quantitative"}, "y2": {"field": "hi"}}},
    {"transform": [{"fold": ["lo","hi"], "as": ["ek","ev"]}], "mark": {"type": "tick", "size": 7}, "encoding": {"xOffset": {"field": "g", "type": "nominal", "sort": null}, "y": {"field": "ev", "type": "quantitative"}}},
    {"data": {"values": [{"c": "joy***", "t": "Amplify", "y": 0.09}]}, "mark": {"type": "text", "align": "left", "dx": -6, "font": "Liberation Serif", "fontStyle": "italic", "fontSize": 14.5, "color": "#222222"}, "encoding": {"x": {"field": "c", "type": "nominal", "sort": null, "bandPosition": 0, "axis": {"orient": "top", "title": null}}, "y": {"field": "y", "type": "quantitative"}, "text": {"field": "t"}}},
    {"data": {"values": [{"c": "fear***", "t": "Dampen", "y": -0.187}]}, "mark": {"type": "text", "align": "right", "dx": 0, "font": "Liberation Serif", "fontStyle": "italic", "fontSize": 14.5, "color": "#222222"}, "encoding": {"x": {"field": "c", "type": "nominal", "sort": null, "bandPosition": 1, "axis": {"orient": "top", "title": null}}, "y": {"field": "y", "type": "quantitative"}, "text": {"field": "t"}}}
   ]}
 ]}
], "spacing": 36, "resolve": {"scale": {"color": "independent", "xOffset": "independent"}}}
]
}
